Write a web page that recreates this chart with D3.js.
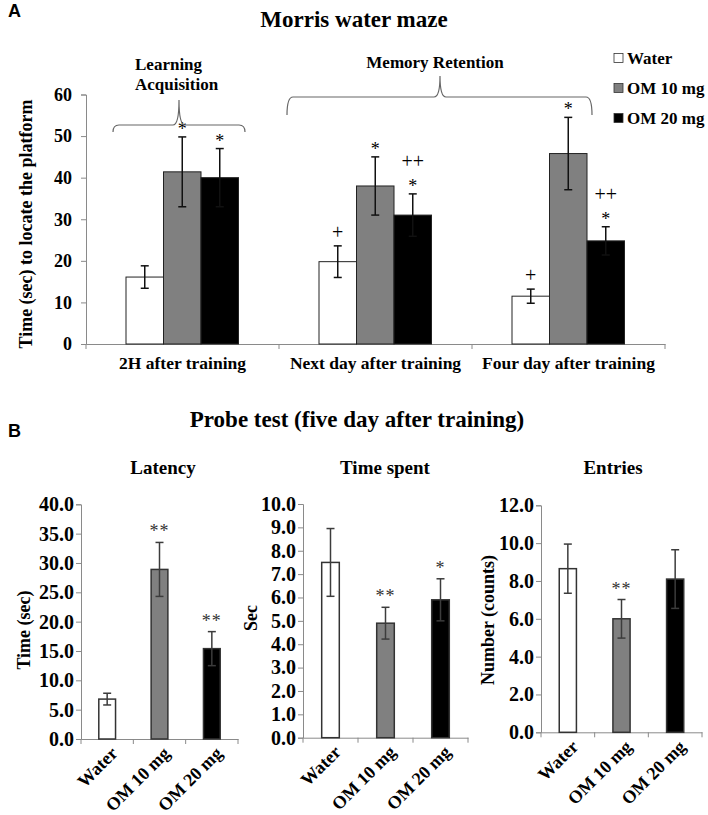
<!DOCTYPE html>
<html><head><meta charset="utf-8">
<script src="https://cdn.jsdelivr.net/npm/d3@7"></script>
<style>
html,body{margin:0;padding:0;background:#fff;}
svg text{font-family:"Liberation Serif","Times New Roman",serif;font-weight:bold;fill:#000;}
svg text.sans{font-family:"Liberation Sans",Arial,sans-serif;}
svg text.sig{font-weight:normal;}
</style></head>
<body>
<script>
// ---------- DATA ----------
const seriesNames = ["Water", "OM 10 mg", "OM 20 mg"];
const groupsA = ["2H after training", "Next day after training", "Four day after training"];
const waterA = [16.1, 19.8, 11.5];
const om10A = [41.4, 38.0, 45.8];
const om20A = [40.0, 31.0, 24.8];
const waterErrA = [2.7, 3.8, 1.7];
const om10ErrA = [8.4, 7.0, 8.7];
const om20ErrA = [7.0, 5.1, 3.4];
const waterSigA = ["", "+", "+"];
const om10SigA = ["*", "*", "*"];
const om20SigA = ["*", "*", "*"];
const om20Sig2A = ["", "++", "++"];
const yTicksA = [0, 10, 20, 30, 40, 50, 60];

const latency = [6.8, 28.9, 15.4];
const latencyErr = [1.0, 4.6, 2.9];
const latencySig = ["", "**", "**"];
const latencyTicks = [0, 5, 10, 15, 20, 25, 30, 35, 40];

const timeSpent = [7.5, 4.9, 5.9];
const timeSpentErr = [1.45, 0.68, 0.9];
const timeSpentSig = ["", "**", "*"];
const timeSpentTicks = [0, 1, 2, 3, 4, 5, 6, 7, 8, 9, 10];

const entries = [8.65, 6.0, 8.1];
const entriesErr = [1.3, 1.02, 1.55];
const entriesSig = ["", "**", ""];
const entriesTicks = [0, 2, 4, 6, 8, 10, 12];

// ---------- STYLE ----------
const SERIF = '"Liberation Serif","Times New Roman",serif';
const fills = ["#ffffff", "#808080", "#000000"];
const W = 708, H = 815;
const svg = d3.select("body").append("svg").attr("width", W).attr("height", H);

function styleAxis(a, fs) {
  a.attr("font-family", null).attr("font-size", null);
  a.select(".domain").attr("stroke", "#8a8a8a");
  a.selectAll(".tick line").attr("stroke", "#8a8a8a");
  a.selectAll("text").style("font-family", SERIF).style("font-weight", "bold").style("font-size", fs + "px").style("fill", "#000");
}

// ---------- PANEL A ----------
svg.append("text").attr("class", "sans").attr("x", 8).attr("y", 17).attr("font-size", 18).text("A");
svg.append("text").attr("x", 354).attr("y", 27).attr("text-anchor", "middle").attr("font-size", 23).text("Morris water maze");

const xA = d3.scaleBand().domain(groupsA).range([86, 665]).padding(0);
const xInA = d3.scaleBand().domain(seriesNames).range([40, 152.5]).padding(0);
const yA = d3.scaleLinear().domain([0, 60]).range([344, 94.5]);

const gA = svg.append("g");
const yAxisA = gA.append("g").attr("transform", "translate(86,0)")
  .call(d3.axisLeft(yA).tickValues(yTicksA).tickSize(5).tickPadding(9).tickFormat(d3.format("d")));
const xAxisA = gA.append("g").attr("transform", "translate(0,344)")
  .call(d3.axisBottom(xA).tickSize(0).tickFormat(""));
styleAxis(yAxisA, 18); styleAxis(xAxisA, 18);
const bounds = groupsA.map(g => xA(g)).concat([xA.range()[1]]);
gA.selectAll("line.bt").data(bounds).enter().append("line")
  .attr("x1", d => d).attr("x2", d => d).attr("y1", 344).attr("y2", 349).attr("stroke", "#8a8a8a");
gA.selectAll("text.xl").data(groupsA).enter().append("text")
  .attr("x", d => xA(d) + xA.bandwidth() / 2).attr("y", 369).attr("text-anchor", "middle").attr("font-size", 17.5).text(d => d);
svg.append("text").attr("transform", "translate(32,224) rotate(-90)").attr("text-anchor", "middle").attr("font-size", 18)
  .text("Time (sec) to locate the platform");

const seriesA = [
  { vals: waterA, err: waterErrA, sig: waterSigA, sig2: null },
  { vals: om10A, err: om10ErrA, sig: om10SigA, sig2: null },
  { vals: om20A, err: om20ErrA, sig: om20SigA, sig2: om20Sig2A }
];
seriesA.forEach((s, si) => {
  groupsA.forEach((g, gi) => {
    const x = xA(g) + xInA(seriesNames[si]);
    const bw = xInA.bandwidth();
    const v = s.vals[gi], e = s.err[gi];
    gA.append("rect").attr("x", x).attr("y", yA(v)).attr("width", bw).attr("height", yA(0) - yA(v))
      .attr("fill", fills[si]).attr("stroke", "#222").attr("stroke-width", 1);
    const cx = x + bw / 2;
    gA.append("line").attr("x1", cx).attr("x2", cx).attr("y1", yA(v - e)).attr("y2", yA(v + e)).attr("stroke", "#111").attr("stroke-width", 1.5);
    [v - e, v + e].forEach(t => gA.append("line").attr("x1", cx - 4).attr("x2", cx + 4).attr("y1", yA(t)).attr("y2", yA(t)).attr("stroke", "#111").attr("stroke-width", 1.5));
    const lab = s.sig[gi];
    if (lab) {
      const isPlus = lab.indexOf("+") >= 0;
      gA.append("text").attr("class", "sig").attr("x", cx).attr("y", yA(v + e) - (isPlus ? 7 : 2))
        .attr("text-anchor", "middle").attr("font-size", isPlus ? 20 : 18).style("fill", "#000").text(lab);
    }
    if (s.sig2 && s.sig2[gi]) {
      gA.append("text").attr("class", "sig").attr("x", cx).attr("y", yA(v + e) - 26)
        .attr("text-anchor", "middle").attr("font-size", 20).style("fill", "#000").text(s.sig2[gi]);
    }
  });
});

function brace(x1, x2, yEnd, yLine, xp, yPeak) {
  const r = 6;
  return `M${x1},${yEnd} Q${x1},${yLine} ${x1 + r},${yLine} L${xp - r},${yLine} Q${xp},${yLine} ${xp},${yPeak} ` +
    `Q${xp},${yLine} ${xp + r},${yLine} L${x2 - r},${yLine} Q${x2},${yLine} ${x2},${yEnd}`;
}
svg.append("path").attr("d", brace(113, 245, 132, 125, 179, 100)).attr("fill", "none").attr("stroke", "#666").attr("stroke-width", 1.2);
svg.append("path").attr("d", brace(287, 592, 115, 97, 440, 76)).attr("fill", "none").attr("stroke", "#666").attr("stroke-width", 1.2);
svg.append("text").attr("x", 135).attr("y", 70).attr("font-size", 17).text("Learning");
svg.append("text").attr("x", 135).attr("y", 90).attr("font-size", 17).text("Acquisition");
svg.append("text").attr("x", 435).attr("y", 68).attr("text-anchor", "middle").attr("font-size", 17).text("Memory Retention");

seriesNames.forEach((n, i) => {
  const cy = 58 + i * 30;
  svg.append("rect").attr("x", 614).attr("y", cy - 4.5).attr("width", 9).attr("height", 9)
    .attr("fill", fills[i]).attr("stroke", "#333").attr("stroke-width", 0.8);
  svg.append("text").attr("x", 627).attr("y", cy + 6).attr("font-size", 17).text(n);
});

// ---------- PANEL B ----------
svg.append("text").attr("class", "sans").attr("x", 8).attr("y", 437).attr("font-size", 18).text("B");
svg.append("text").attr("x", 357).attr("y", 427).attr("text-anchor", "middle").attr("font-size", 23).text("Probe test (five day after training)");

const panels = [
  { title: "Latency", ylab: "Time (sec)", vals: latency, err: latencyErr, sig: latencySig, ticks: latencyTicks,
    x0: 81, x1: 238, y0: 739, yTop: 504.3, max: 40, titleX: 163, ylabX: 24, ylabY: 630 },
  { title: "Time spent", ylab: "Sec", vals: timeSpent, err: timeSpentErr, sig: timeSpentSig, ticks: timeSpentTicks,
    x0: 303, x1: 468, y0: 737.7, yTop: 504, max: 10, titleX: 385, ylabX: 251, ylabY: 618 },
  { title: "Entries", ylab: "Number (counts)", vals: entries, err: entriesErr, sig: entriesSig, ticks: entriesTicks,
    x0: 541, x1: 702, y0: 732.3, yTop: 505.3, max: 12, titleX: 613, ylabX: 488, ylabY: 620 }
];
panels.forEach(p => {
  const g = svg.append("g");
  const x = d3.scaleBand().domain(seriesNames).range([p.x0, p.x1]).padding(0);
  const y = d3.scaleLinear().domain([0, p.max]).range([p.y0, p.yTop]);
  const ya = g.append("g").attr("transform", `translate(${p.x0},0)`)
    .call(d3.axisLeft(y).tickValues(p.ticks).tickSize(5).tickPadding(2).tickFormat(d3.format(".1f")));
  const xa = g.append("g").attr("transform", `translate(0,${p.y0})`)
    .call(d3.axisBottom(x).tickSize(0).tickFormat(""));
  styleAxis(ya, 20); styleAxis(xa, 20);
  const bds = seriesNames.map(s => x(s)).concat([p.x1]);
  g.selectAll("line.bt").data(bds).enter().append("line")
    .attr("x1", d => d).attr("x2", d => d).attr("y1", p.y0).attr("y2", p.y0 + 5).attr("stroke", "#8a8a8a");
  const bw = x.bandwidth() * 0.32;
  seriesNames.forEach((s, i) => {
    const cx = x(s) + x.bandwidth() / 2;
    const v = p.vals[i], e = p.err[i];
    g.append("rect").attr("x", cx - bw / 2).attr("y", y(v)).attr("width", bw).attr("height", p.y0 - y(v))
      .attr("fill", fills[i]).attr("stroke", "#333").attr("stroke-width", 1.5);
    g.append("line").attr("x1", cx).attr("x2", cx).attr("y1", y(v - e)).attr("y2", y(v + e)).attr("stroke", "#3c3c3c").attr("stroke-width", 1.5);
    [v - e, v + e].forEach(t => g.append("line").attr("x1", cx - 4).attr("x2", cx + 4).attr("y1", y(t)).attr("y2", y(t)).attr("stroke", "#3c3c3c").attr("stroke-width", 1.5));
    if (p.sig[i]) {
      g.append("text").attr("class", "sig").attr("x", cx).attr("y", y(v + e) - 5).attr("text-anchor", "middle")
        .attr("font-size", 18).attr("letter-spacing", 1).style("fill", "#333").text(p.sig[i]);
    }
    g.append("text").attr("transform", `translate(${cx + 7},${p.y0 + 11}) rotate(-45)`)
      .attr("text-anchor", "end").attr("dy", "0.35em").attr("font-size", 18).text(s);
  });
  g.append("text").attr("x", p.titleX).attr("y", 474).attr("text-anchor", "middle").attr("font-size", 19).text(p.title);
  g.append("text").attr("transform", `translate(${p.ylabX + 6},${p.ylabY}) rotate(-90)`).attr("text-anchor", "middle")
    .attr("font-size", 18).text(p.ylab);
});
</script>
</body></html>
